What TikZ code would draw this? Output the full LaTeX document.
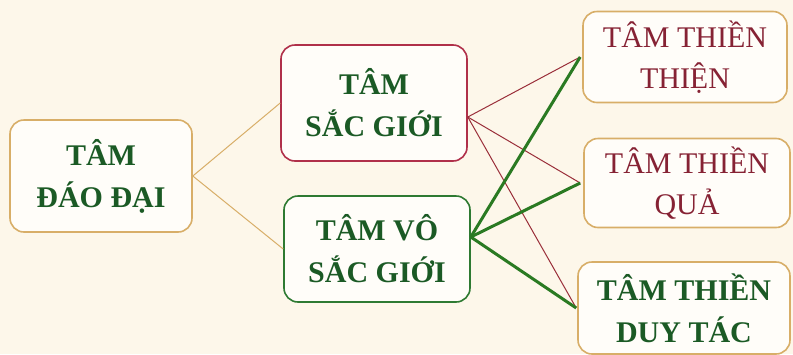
\documentclass[tikz,border=0pt]{standalone}
\usepackage{fontspec}
\setmainfont{Liberation Serif}
\definecolor{bgc}{HTML}{FDF7EA}
\definecolor{fillc}{HTML}{FFFDF9}
\definecolor{tan}{HTML}{D8AE68}
\definecolor{redb}{HTML}{B0304A}
\definecolor{greenb}{HTML}{2E7A32}
\definecolor{txtg}{HTML}{1B5A25}
\definecolor{txtr}{HTML}{862234}
\definecolor{linered}{HTML}{9A2F3A}
\definecolor{linegreen}{HTML}{2A7A22}
\begin{document}
\begin{tikzpicture}[x=1pt,y=-1pt,
  box/.style={draw, line width=1.6pt, rounded corners=14pt, fill=fillc, align=center, inner sep=0pt},
  bigtxt/.style={font=\fontsize{30}{42}\selectfont\bfseries},
  regtxt/.style={font=\fontsize{30}{41}\selectfont}]
\fill[bgc] (0,0) rectangle (793,354);
\useasboundingbox (0,0) rectangle (793,354);
\node[box, draw=tan, text=txtg, bigtxt, minimum width=182pt, minimum height=112pt] (dd) at (101,176) {TÂM\\ĐÁO ĐẠI};
\node[box, draw=redb, text=txtg, bigtxt, minimum width=186pt, minimum height=116pt] (sg) at (374,103) {TÂM\\SẮC GIỚI};
\node[box, draw=greenb, text=txtg, bigtxt, minimum width=186pt, minimum height=106pt] (vsg) at (377,249) {TÂM VÔ\\SẮC GIỚI};
\node[box, draw=tan, text=txtr, regtxt, minimum width=204pt, minimum height=91pt] (tt) at (685,57) {TÂM THIỀN\\THIỆN};
\node[box, draw=tan, text=txtr, regtxt, minimum width=206pt, minimum height=89pt] (tq) at (687,183) {TÂM THIỀN\\QUẢ};
\node[box, draw=tan, text=txtg, bigtxt, minimum width=212pt, minimum height=92pt] (td) at (684,308) {TÂM THIỀN\\DUY TÁC};
\draw[tan, line width=1pt] (dd.east) -- (sg.west);
\draw[tan, line width=1pt] (dd.east) -- (vsg.west);
\coordinate (sgp) at ([yshift=-14pt]sg.east);
\coordinate (vsp) at ([yshift=12pt]vsg.east);
\coordinate (ttp) at ([xshift=-2pt]tt.west);
\coordinate (tqp) at ([xshift=-3pt]tq.west);
\coordinate (tdp) at ([xshift=-1pt]td.west);
\foreach \t in {ttp,tqp,tdp} \draw[linered, line width=1pt] (sgp) -- (\t);
\foreach \t in {ttp,tqp,tdp} \draw[linegreen, line width=3pt] (vsp) -- (\t);
\end{tikzpicture}
\end{document}
